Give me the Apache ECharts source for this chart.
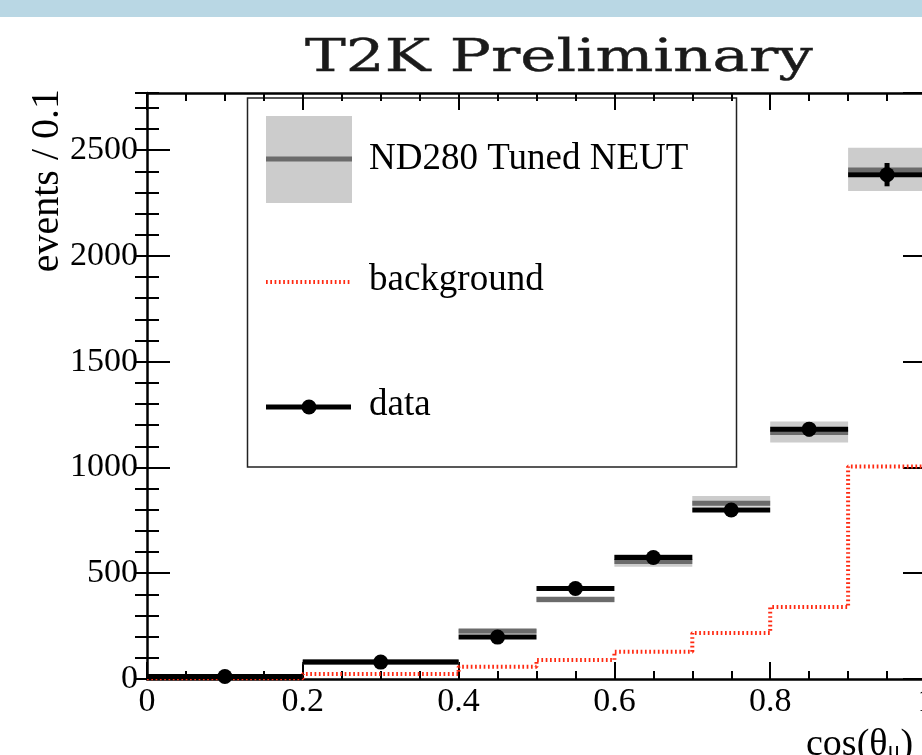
<!DOCTYPE html>
<html>
<head>
<meta charset="utf-8">
<script src="https://cdn.jsdelivr.net/npm/echarts@6/dist/echarts.min.js"></script>
<style>
html, body { margin: 0; padding: 0; background: #fff; }
#chart { width: 922px; height: 755px; }
</style>
</head>
<body>
<div id="chart"></div>
<script>
// bin edges in cos(theta_mu)
const binEdges = [0, 0.2, 0.4, 0.5, 0.6, 0.7, 0.8, 0.9, 1.0];
// data points (events / 0.1) and their errors
const dataValues = [12, 80, 198, 428, 574, 799, 1181, 2384];
const dataErrors = [4, 9, 14, 21, 24, 28, 34, 55];
// ND280 tuned NEUT prediction + error band
const mcValues = [12, 80, 227, 376, 555, 831, 1165, 2406];
const mcLow = [8, 72, 213, 362, 531, 814, 1118, 2307];
const mcHigh = [16, 88, 236, 391, 591, 865, 1217, 2511];
// background
const bgValues = [3, 24, 58, 90, 129, 218, 340, 1005];
// axis ranges / steps
const xRange = [0, 1];
const xStep = 0.2;
const yRange = [0, 2770];
const yStep = 500;
const yMinorStep = 100;

const serif = "'Liberation Serif', 'Times New Roman', serif";

const bandRows = [];
const dataRows = [];
const bgLine = [];
for (let i = 0; i < binEdges.length - 1; i++) {
  const lo = binEdges[i], hi = binEdges[i + 1];
  bandRows.push([lo, hi, mcLow[i], mcHigh[i], mcValues[i]]);
  dataRows.push([lo, hi, dataValues[i], dataErrors[i]]);
  bgLine.push([lo, bgValues[i]], [hi, bgValues[i]]);
}

function renderBand(params, api) {
  const a = api.coord([api.value(0), api.value(3)]);
  const b = api.coord([api.value(1), api.value(2)]);
  const c0 = api.coord([api.value(0), api.value(4)]);
  const c1 = api.coord([api.value(1), api.value(4)]);
  return {
    type: 'group',
    children: [
      { type: 'rect', shape: { x: a[0], y: a[1], width: b[0] - a[0], height: b[1] - a[1] },
        style: { fill: '#cccccc' } },
      { type: 'line', shape: { x1: c0[0], y1: c0[1], x2: c1[0], y2: c1[1] },
        style: { stroke: '#6b6b6b', lineWidth: 5 } }
    ]
  };
}

function renderData(params, api) {
  const v = api.value(2), e = api.value(3);
  const l = api.coord([api.value(0), v]);
  const r = api.coord([api.value(1), v]);
  const mid = (api.value(0) + api.value(1)) / 2;
  const c = api.coord([mid, v]);
  const up = api.coord([mid, v + e]);
  const dn = api.coord([mid, v - e]);
  return {
    type: 'group',
    children: [
      { type: 'line', shape: { x1: l[0], y1: l[1], x2: r[0], y2: r[1] },
        style: { stroke: '#000', lineWidth: 5 } },
      { type: 'line', shape: { x1: c[0], y1: up[1], x2: c[0], y2: dn[1] },
        style: { stroke: '#000', lineWidth: 5 } },
      { type: 'circle', shape: { cx: c[0], cy: c[1], r: 7.5 }, style: { fill: '#000' } }
    ]
  };
}

const myChart = echarts.init(document.getElementById('chart'));

const xCommon = {
  type: 'value', min: xRange[0], max: xRange[1], interval: xStep,
  axisLine: { show: true, onZero: false, lineStyle: { color: '#000', width: 2.5 } },
  axisTick: { show: true, inside: true, length: 17, lineStyle: { color: '#000', width: 2 } },
  minorTick: { show: true, splitNumber: 4, length: 8, lineStyle: { color: '#000', width: 2 } },
  splitLine: { show: false },
  minorSplitLine: { show: false }
};

const yMajor = {
  type: 'value', min: yRange[0], max: yRange[1], interval: yStep,
  axisLine: { show: true, onZero: false, lineStyle: { color: '#000', width: 2.5 } },
  axisTick: { show: true, inside: true, length: 23, lineStyle: { color: '#000', width: 2 } },
  splitLine: { show: false }
};
const yMinor = {
  type: 'value', min: yRange[0], max: yRange[1], interval: yMinorStep,
  axisLine: { show: false },
  axisTick: { show: true, inside: true, length: 12, lineStyle: { color: '#000', width: 2 } },
  axisLabel: { show: false },
  splitLine: { show: false }
};

const option = {
  animation: false,
  backgroundColor: '#fff',
  grid: { left: 147, top: 93, right: -4, bottom: 76, outerBoundsMode: 'none' },
  xAxis: [
    Object.assign({}, xCommon, {
      position: 'bottom',
      axisLabel: { show: true, fontFamily: serif, fontSize: 34, color: '#000', margin: 6 }
    }),
    Object.assign({}, xCommon, { position: 'top', axisLabel: { show: false } })
  ],
  yAxis: [
    Object.assign({}, yMajor, {
      position: 'left',
      axisLabel: { show: true, fontFamily: serif, fontSize: 34, color: '#000', margin: 9,
                   showMaxLabel: false, formatter: v => String(v) }
    }),
    Object.assign({}, yMinor, { position: 'left' }),
    Object.assign({}, yMajor, { position: 'right', axisLabel: { show: false } }),
    Object.assign({}, yMinor, { position: 'right' })
  ],
  series: [
    {
      name: 'ND280 Tuned NEUT', type: 'custom', renderItem: renderBand,
      encode: { x: [0, 1], y: [2, 3, 4] }, data: bandRows, z: 2
    },
    {
      name: 'background', type: 'line', data: bgLine, symbol: 'none',
      lineStyle: { color: '#ff2a12', width: 4, type: [1.7, 2.6] }, z: 3
    },
    {
      name: 'data', type: 'custom', renderItem: renderData,
      encode: { x: [0, 1], y: [2] }, data: dataRows, z: 4
    }
  ],
  graphic: [
    // light blue strip at the top
    { type: 'rect', left: 0, top: 0, shape: { width: 922, height: 17 }, style: { fill: '#b9d7e4' }, z: 1 },
    // title
    { type: 'text', x: 305, y: 60, scaleX: 1.39,
      style: { text: 'T2K Preliminary', fontFamily: "'DejaVu Serif', serif", fontSize: 44,
               fill: '#1a1a1a', stroke: '#1a1a1a', lineWidth: 0.4,
               align: 'left', verticalAlign: 'middle' } },
    // y axis name
    { type: 'text', x: 67, y: 89, rotation: Math.PI / 2,
      style: { text: 'events / 0.1', fontFamily: serif, fontSize: 40, fill: '#000',
               align: 'right', verticalAlign: 'bottom' } },
    // x axis name
    { type: 'text', x: 806, y: 726,
      style: { text: 'cos(θ{s|μ})', fontFamily: serif, fontSize: 38, fill: '#000',
               align: 'left', verticalAlign: 'top',
               rich: { s: { fontFamily: serif, fontSize: 24, fill: '#000', padding: [12, 0, 0, 0] } } } },
    // legend
    {
      type: 'group', z: 100,
      children: [
        { type: 'rect', shape: { x: 247.5, y: 98, width: 489, height: 369 },
          style: { fill: '#fff', stroke: '#222', lineWidth: 1.5 } },
        { type: 'rect', shape: { x: 266, y: 116, width: 86, height: 87 }, style: { fill: '#cccccc' } },
        { type: 'line', shape: { x1: 266, y1: 159, x2: 352, y2: 159 },
          style: { stroke: '#6b6b6b', lineWidth: 5 } },
        { type: 'text', x: 369, y: 159.5,
          style: { text: 'ND280 Tuned NEUT', fontFamily: serif, fontSize: 37, fill: '#000', verticalAlign: 'middle' } },
        { type: 'line', shape: { x1: 266, y1: 282, x2: 351, y2: 282 },
          style: { stroke: '#ff2a12', lineWidth: 4, lineDash: [1.7, 2.6] } },
        { type: 'text', x: 369, y: 280,
          style: { text: 'background', fontFamily: serif, fontSize: 37, fill: '#000', verticalAlign: 'middle' } },
        { type: 'line', shape: { x1: 266, y1: 407, x2: 351, y2: 407 },
          style: { stroke: '#000', lineWidth: 5 } },
        { type: 'circle', shape: { cx: 309, cy: 407, r: 7.5 }, style: { fill: '#000' } },
        { type: 'text', x: 369, y: 405,
          style: { text: 'data', fontFamily: serif, fontSize: 37, fill: '#000', verticalAlign: 'middle' } }
      ]
    }
  ]
};

myChart.setOption(option);
</script>
</body>
</html>
